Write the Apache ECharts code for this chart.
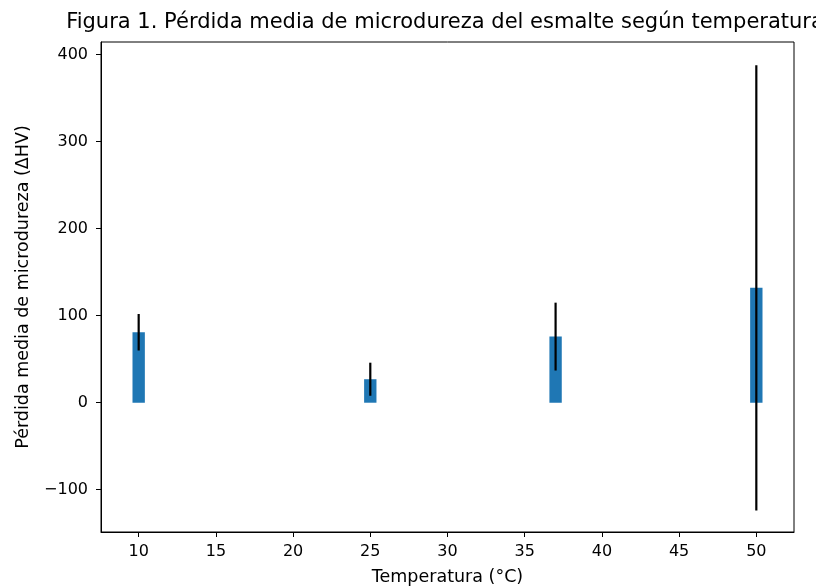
<!DOCTYPE html>
<html><head><meta charset="utf-8">
<script src="https://cdn.jsdelivr.net/npm/echarts@6/dist/echarts.min.js"></script>
<style>html,body{margin:0;padding:0;background:#fff}#c{width:816px;height:588px}</style>
</head><body><div id="c"></div>
<script>
const temperatures = [10, 25, 37, 50];
const meanLoss = [81, 27, 76, 132];
const sdLoss = [21, 19, 39, 256];
const xTicks = [10, 15, 20, 25, 30, 35, 40, 45, 50];
const yTicks = [-100, 0, 100, 200, 300, 400];
const barHalfWidth = 0.4;

const font = 'DejaVu Sans';
const chart = echarts.init(document.getElementById('c'), null, {renderer: 'canvas'});
const barData = temperatures.map((t, i) => [t, meanLoss[i]]);
const errData = temperatures.map((t, i) => [t, meanLoss[i] - sdLoss[i], meanLoss[i] + sdLoss[i]]);
const fmt = v => String(v).replace('-', '\u2212');

chart.setOption({
  animation: false,
  backgroundColor: '#fff',
  graphic: [{
    type: 'text', x: 445, y: 23,
    style: {text: 'Figura 1. Pérdida media de microdureza del esmalte según temperatura',
      font: '21px "DejaVu Sans"', fill: '#000', align: 'center', verticalAlign: 'middle'}
  }],
  grid: {left: 101, right: 22, top: 42, bottom: 56, show: true, borderColor: '#000', borderWidth: 1,
    backgroundColor: 'transparent', outerBoundsMode: 'none', containLabel: false},
  xAxis: {
    type: 'value', min: 7.56, max: 52.44,
    name: 'Temperatura (°C)', nameLocation: 'middle', nameGap: 36,
    nameTextStyle: {fontFamily: font, fontSize: 17.5, color: '#000'},
    axisLine: {show: true, onZero: false, lineStyle: {color: '#000', width: 1}},
    axisTick: {show: true, length: 5, customValues: xTicks, lineStyle: {color: '#000'}},
    axisLabel: {customValues: xTicks, formatter: fmt, fontFamily: font, fontSize: 16, color: '#000', margin: 12},
    splitLine: {show: false}
  },
  yAxis: {
    type: 'value', min: -148.6, max: 414.6,
    name: 'Pérdida media de microdureza (ΔHV)', nameLocation: 'middle', nameGap: 69, nameRotate: 90,
    nameTextStyle: {fontFamily: font, fontSize: 17.5, color: '#000'},
    axisLine: {show: true, onZero: false, lineStyle: {color: '#000', width: 1}},
    axisTick: {show: true, length: 5, customValues: yTicks, lineStyle: {color: '#000'}},
    axisLabel: {customValues: yTicks, formatter: fmt, fontFamily: font, fontSize: 16, color: '#000', margin: 13},
    splitLine: {show: false}
  },
  series: [{
    type: 'custom',
    data: barData,
    renderItem: function (params, api) {
      const x = api.value(0), y = api.value(1);
      const p1 = api.coord([x - barHalfWidth, y]);
      const p2 = api.coord([x + barHalfWidth, 0]);
      return {type: 'rect', shape: {x: p1[0], y: p1[1], width: p2[0] - p1[0], height: p2[1] - p1[1]},
        style: {fill: '#1f77b4'}};
    },
    z: 2
  }, {
    type: 'custom',
    data: errData,
    renderItem: function (params, api) {
      const x = api.value(0);
      const lo = api.coord([x, api.value(1)]);
      const hi = api.coord([x, api.value(2)]);
      return {type: 'line', shape: {x1: lo[0], y1: lo[1], x2: hi[0], y2: hi[1]},
        style: {stroke: '#000', lineWidth: 2.2}};
    },
    z: 3
  }]
});
</script></body></html>
